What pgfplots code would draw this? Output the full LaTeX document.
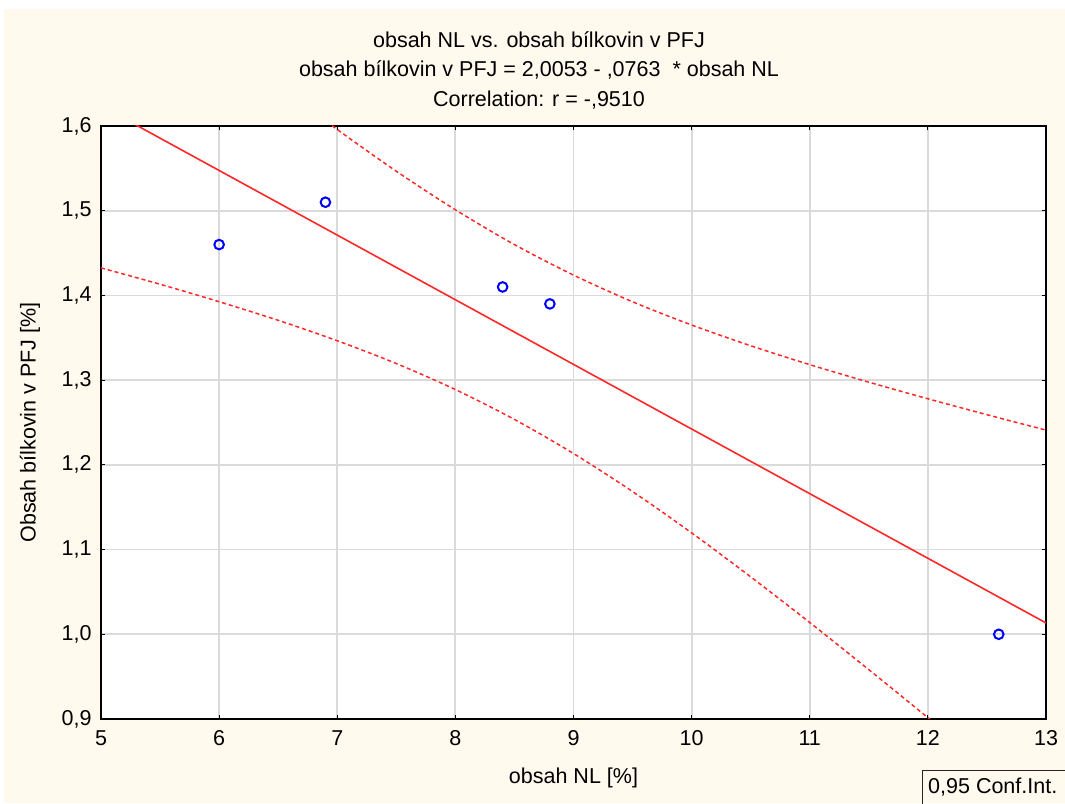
\documentclass[border=0pt]{standalone}
\usepackage{pgfplots}
\pgfplotsset{compat=1.18}
\usepackage{fontspec}
\setmainfont{Liberation Sans}
\definecolor{cream}{RGB}{255,249,238}
\definecolor{gridgray}{RGB}{218,218,218}
\definecolor{ptblue}{RGB}{0,0,255}
\definecolor{lnred}{RGB}{255,40,40}
\newcommand{\tf}{\fontsize{21.5}{26}\selectfont}
\begin{document}
\begin{tikzpicture}[x=1pt,y=1pt]
\useasboundingbox (0,0) rectangle (1065,803);
\clip (0,0) rectangle (1065,803);
\fill[white] (0,0) rectangle (1065,803);
\fill[cream] (4,0) rectangle (1065,794);
\node[font=\tf] at (539,763) {obsah NL vs. obsah bílkovin v PFJ};
\node[font=\tf] at (539,733) {obsah bílkovin v PFJ = 2,0053 - ,0763 \ * obsah NL};
\node[font=\tf] at (539,703) {Correlation: r = -,9510};
\begin{axis}[
  at={(101pt,84pt)}, anchor=south west,
  scale only axis, width=945pt, height=593pt,
  xmin=5, xmax=13, ymin=0.9, ymax=1.6,
  xtick={5,6,7,8,9,10,11,12,13},
  ytick={0.9,1,1.1,1.2,1.3,1.4,1.5,1.6},
  axis background/.style={fill=white},
  grid=major,
  major grid style={gridgray, line width=1.8pt},
  axis line style={black, line width=1.2pt},
  tick style={black, line width=1pt},
  tick align=inside,
  major tick length=4pt,
  tick label style={font=\tf},
  /pgf/number format/assume math mode=true,
  xticklabel style={yshift=-8pt},
  yticklabel style={xshift=-6pt, /pgf/number format/.cd, fixed, fixed zerofill, precision=1, use comma},
  xlabel={obsah NL [\%]},
  ylabel={Obsah bílkovin v PFJ [\%]},
  xlabel style={font=\tf, at={(axis description cs:0.5,-0.0995)}, anchor=center},
  ylabel style={font=\tf, at={(axis description cs:-0.0751,0.5)}, anchor=center},
  clip=true,
]
\addplot[lnred, line width=1.6pt] coordinates {(5,1.6238) (13,1.0134)};
\addplot[lnred, line width=1.5pt, dash pattern=on 4pt off 3pt, smooth] coordinates {
(5,1.8151) (5.5,1.7582) (6,1.7024) (6.5,1.6482) (7,1.5959) (7.5,1.5466) (8,1.5011) (8.5,1.4600) (9,1.4240) (9.5,1.3925) (10,1.3651) (10.5,1.3406) (11,1.3183) (11.5,1.2976) (12,1.2780) (12.5,1.2592) (13,1.2410)};
\addplot[lnred, line width=1.5pt, dash pattern=on 4pt off 3pt, smooth] coordinates {
(5,1.4325) (5.5,1.4132) (6,1.3926) (6.5,1.3706) (7,1.3465) (7.5,1.3196) (8,1.2889) (8.5,1.2536) (9,1.2134) (9.5,1.1685) (10,1.1197) (10.5,1.0678) (11,1.0139) (11.5,0.9582) (12,0.9016) (12.5,0.8440) (13,0.7858)};
\addplot[only marks, mark=o, mark size=4.8pt, mark options={ptblue, line width=2pt, fill=white}] coordinates {
(6.0,1.46) (6.9,1.51) (8.4,1.41) (8.8,1.39) (12.6,1.00)};
\end{axis}
\draw[line width=1pt, black!85] (922,-10) -- (922,33) -- (1075,33);
\node[font=\tf, anchor=west, inner sep=0pt] at (928,16) {0,95 Conf.Int.};
\end{tikzpicture}
\end{document}
